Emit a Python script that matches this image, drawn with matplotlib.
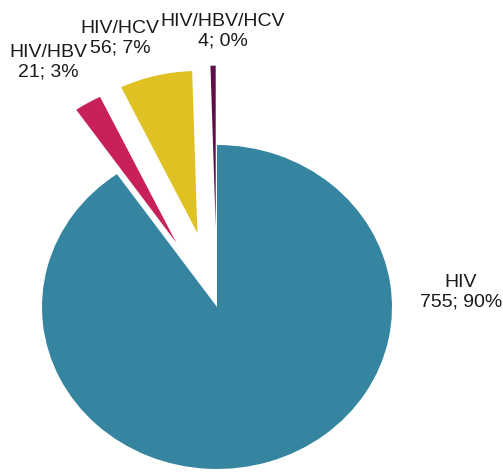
import matplotlib
matplotlib.use('Agg')
from matplotlib import pyplot as plt

plt.rcParams['font.family'] = ['Liberation Sans', 'DejaVu Sans']

categories = ['HIV', 'HIV/HBV', 'HIV/HCV', 'HIV/HBV/HCV']
counts = [755, 21, 56, 4]
percents = [90, 3, 7, 0]
colors = ['#3585A1', '#C8215A', '#E0C123', '#5E0F4A']
explode = [0, 0.46, 0.47, 0.49]

# label centres in pixels (x from left, y from top)
label_pos = [(461, 292), (48, 62), (120, 38), (223, 31)]

W, H = 503, 475
cx, cy = 217, 307      # pie centre, pixels
rx, ry = 175, 162      # the pie is drawn slightly wider than tall

fig = plt.figure(figsize=(W / 100, H / 100), dpi=100)
ax = fig.add_axes([0, 0, 1, 1])

ax.pie(counts, colors=colors, explode=explode, startangle=90,
       counterclock=False, wedgeprops={'linewidth': 0})

ax.set_aspect('auto')
ax.set_xlim(-cx / rx, (W - cx) / rx)
ax.set_ylim(-(H - cy) / ry, cy / ry)
ax.axis('off')

for name, n, p, (px, py) in zip(categories, counts, percents, label_pos):
    ax.text(px / W, 1 - py / H, f"{name}\n{n}; {p}%", transform=ax.transAxes,
            ha='center', va='center', fontsize=14, color='#1a1a1a',
            linespacing=1.2)

fig.savefig('out.png', dpi=100)
